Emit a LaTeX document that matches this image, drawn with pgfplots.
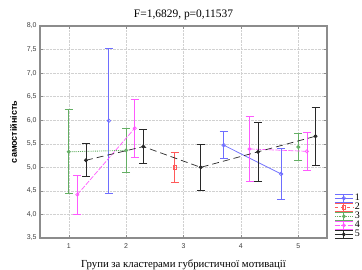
\documentclass[border=0pt]{standalone}
\usepackage{pgfplots}
\pgfplotsset{compat=1.18}
\usepackage{fontspec}
\setmainfont{Liberation Serif}
\setsansfont{Liberation Sans}
\definecolor{cblue}{RGB}{110,110,255}
\definecolor{cred}{RGB}{255,90,90}
\definecolor{cgreen}{RGB}{100,175,100}
\definecolor{cpink}{RGB}{255,90,255}
\definecolor{cblack}{RGB}{40,40,40}
\definecolor{frame}{RGB}{140,140,140}
\pgfplotsset{
  errleg/.style={legend image code/.code={
    \draw[##1,solid] (0bp,-4bp) -- (18bp,-4bp);
    \draw[##1,solid] (0bp,4bp) -- (18bp,4bp);
    \draw[##1,solid] (9bp,-4bp) -- (9bp,4bp);
    \draw[mark repeat=2,mark phase=2,##1] plot coordinates {(0bp,0bp) (9bp,0bp) (18bp,0bp)};
  }},
  eb/.style={error bars/y dir=both, error bars/y explicit,
    error bars/error mark options={rotate=90, mark size=4bp, line width=0.8pt, solid, draw=#1},
    error bars/error bar style={line width=0.8pt, solid, draw=#1}},
}
\begin{document}
\begin{tikzpicture}
\path[use as bounding box] (0,0) rectangle (362bp,270bp);
\begin{axis}[
  at={(40bp,32bp)}, anchor=south west,
  scale only axis, width=287bp, height=212bp,
  xmin=0.5, xmax=5.5, ymin=3.5, ymax=8.0,
  xtick={1,2,3,4,5},
  ytick={3.5,4,...,8},
  yticklabel style={/pgf/number format/.cd, fixed, fixed zerofill, precision=1, use comma},
  ticklabel style={font=\sffamily\fontsize{7}{8}\selectfont, text=black!75},
  xticklabel style={yshift=-2bp},
  /pgf/number format/assume math mode=true,
  grid=major,
  grid style={densely dotted, black!18},
  axis line style={frame, line width=1.3pt},
  tick style={frame, thin},
  tick align=inside,
  major tick length=3bp,
  title={F=1,6829, p=0,11537},
  title style={font=\fontsize{11.5}{12}\selectfont, yshift=-3bp},
  xlabel={Групи за кластерами губристичної мотивації},
  xlabel style={font=\fontsize{10.8}{12}\selectfont, yshift=-4bp},
  ylabel={самостійність},
  ylabel style={font=\sffamily\bfseries\fontsize{9}{10}\selectfont, yshift=3bp},
  legend style={at={(1.025,0.215)}, anchor=north west, draw=none, fill=none,
    font=\fontsize{10}{10}\selectfont, row sep=-2bp, inner sep=0pt,
    nodes={inner sep=1.5bp}},
  legend cell align=left,
  clip=false,
]
% series 1 (blue)
\addplot[cblue, line width=0.7pt, mark=o, mark size=1.8bp, eb=cblue, forget plot]
  table[y error=e] {
x y e
1.7 5.99 1.54
};
\addplot[cblue, line width=0.7pt, mark=o, mark size=1.8bp, eb=cblue, errleg]
  table[y error=e] {
x y e
3.7 5.47 0.29
4.7 4.86 0.55
};
\addlegendentry{1}
% series 2 (red)
\addplot[cred, line width=0.7pt, dashed, mark=square, mark size=1.8bp, mark options={solid}, eb=cred, errleg]
  table[y error=e] {
x y e
2.85 5.00 0.31
};
\addlegendentry{2}
% series 3 (green)
\addplot[cgreen, line width=0.9pt, densely dotted, mark=o, mark size=1.5bp, mark options={solid}, eb=cgreen, errleg]
  table[y error=e] {
x y e
1 5.33 0.89
2 5.36 0.47
};
\addlegendentry{3}
\addplot[cgreen, line width=0.9pt, densely dotted, mark=o, mark size=1.5bp, mark options={solid}, eb=cgreen, forget plot]
  table[y error=e] {
x y e
5 5.43 0.29
};
% series 4 (pink)
\addplot[cpink, line width=0.7pt, dash pattern=on 5bp off 1.5bp, mark=o, mark size=1.6bp, mark options={solid}, eb=cpink, errleg]
  table[y error=e] {
x y e
1.15 4.42 0.41
2.15 5.83 0.62
};
\addlegendentry{4}
\addplot[cpink, line width=0.7pt, dash pattern=on 5bp off 1.5bp, mark=o, mark size=1.6bp, mark options={solid}, eb=cpink, forget plot]
  table[y error=e] {
x y e
4.15 5.39 0.69
5.15 5.34 0.40
};
% series 5 (black)
\addplot[cblack, line width=0.7pt, dash pattern=on 7bp off 4bp, mark=*, mark size=1.6bp, mark options={solid}, eb=cblack, errleg]
  table[y error=e] {
x y e
1.3 5.15 0.35
2.3 5.44 0.36
3.3 5.00 0.48
4.3 5.33 0.63
5.3 5.66 0.62
};
\addlegendentry{5}
\end{axis}
\end{tikzpicture}
\end{document}
